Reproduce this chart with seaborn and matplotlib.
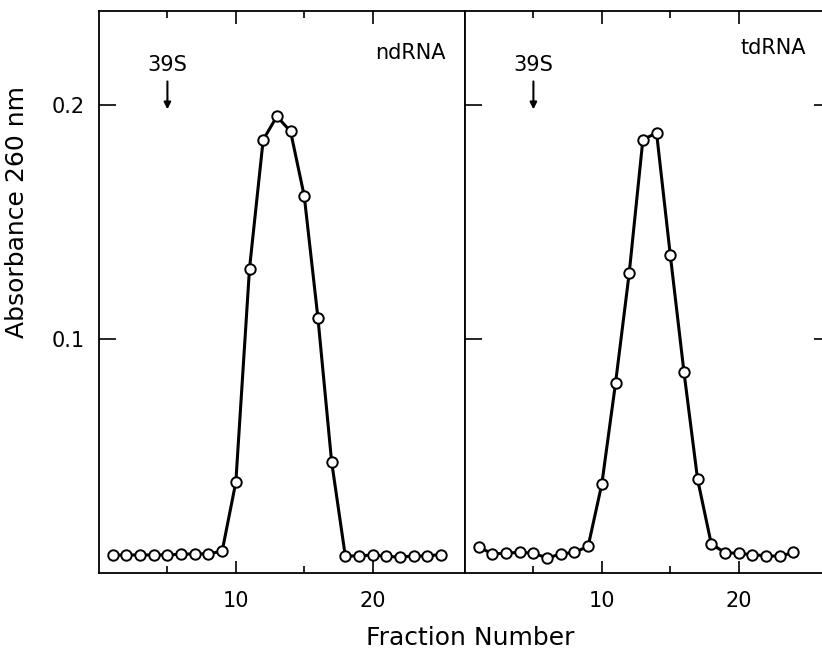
import numpy as np
import seaborn as sns
import matplotlib.pyplot as plt
from matplotlib.ticker import FixedLocator

# Fraktionsnummern und Absorption (260 nm)
fractions_nd = [1, 2, 3, 4, 5, 6, 7, 8, 9, 10, 11, 12, 13,
                14, 15, 16, 17, 18, 19, 20, 21, 22, 23, 24, 25]
absorbance_nd = [0.0077, 0.0077, 0.0077, 0.0077, 0.0078, 0.0080, 0.0082, 0.0082, 0.0093,
                 0.0388, 0.130, 0.185, 0.195, 0.1886, 0.161, 0.109, 0.0476,
                 0.0073, 0.0073, 0.0077, 0.0071, 0.0068, 0.0073, 0.0073, 0.0079]

fractions_td = [1, 2, 3, 4, 5, 6, 7, 8, 9, 10, 11, 12,
                13, 14, 15, 16, 17, 18, 19, 20, 21, 22, 23, 24]
absorbance_td = [0.0112, 0.0081, 0.0085, 0.0088, 0.0085, 0.0064, 0.0081, 0.0088, 0.0114,
                 0.038, 0.081, 0.128, 0.185, 0.188, 0.136, 0.086, 0.040,
                 0.0124, 0.0087, 0.0084, 0.0078, 0.0074, 0.0071, 0.0088]

panel_labels = ["ndRNA", "tdRNA"]
marker_label = "39S"
marker_fraction = 5

if __name__ == "__main__":
    sns.set_theme(style="ticks")
    plt.rcParams["font.family"] = ["DejaVu Sans"]
    plt.rcParams["text.color"] = "black"
    plt.rcParams["axes.labelcolor"] = "black"

    W, H = 822, 651
    fig = plt.figure(figsize=(W / 100, H / 100), dpi=100)
    bottom = 1 - 573 / H
    height = (573 - 11) / H
    ax1 = fig.add_axes([99 / W, bottom, 366 / W, height])
    ax2 = fig.add_axes([465 / W, bottom, 366 / W, height])

    data = [(ax1, fractions_nd, absorbance_nd), (ax2, fractions_td, absorbance_td)]
    for i, (ax, x, y) in enumerate(data):
        sns.lineplot(x=x, y=y, ax=ax, color="black", linewidth=2.2,
                     marker="o", markersize=7.5, markerfacecolor="white",
                     markeredgecolor="black", markeredgewidth=1.4)
        ax.set_xlim(0, 26.75)
        ax.set_ylim(0, 0.24)
        ax.set_xticks([10, 20])
        ax.xaxis.set_minor_locator(FixedLocator([5, 15]))
        ax.set_yticks([0.1, 0.2])
        for s in ax.spines.values():
            s.set_visible(True)
            s.set_linewidth(1.3)
            s.set_color("black")
        ax.tick_params(axis="x", which="major", direction="in", length=9, width=1.2,
                       top=True, bottom=True, labelsize=15, pad=13, colors="black")
        ax.tick_params(axis="x", which="minor", direction="in", length=5, width=1.2,
                       top=True, bottom=True, colors="black")
        ax.tick_params(axis="y", which="major", direction="in", length=12, width=1.2,
                       left=True, right=(i == 1), labelleft=(i == 0), labelsize=15,
                       pad=10, colors="black")
        ax.set_xlabel("")
        ax.set_ylabel("")

        # 39S-Markierung
        ax.annotate(marker_label, xy=(marker_fraction, 0.198), xytext=(marker_fraction, 0.2125),
                    ha="center", va="bottom", fontsize=15,
                    arrowprops=dict(arrowstyle="-|>", color="black", lw=1.5,
                                    mutation_scale=10, shrinkA=2, shrinkB=0))

    ax1.text(25.3, 0.2265, panel_labels[0], ha="right", va="top", fontsize=15)
    ax2.text(24.9, 0.2285, panel_labels[1], ha="right", va="top", fontsize=15)

    ax1.set_ylabel("Absorbance 260 nm", fontsize=18)
    ax1.yaxis.set_label_coords(-0.19, (573 - 212) / 562)
    fig.text(470 / W, 1 - 638 / H, "Fraction Number", ha="center", va="center", fontsize=18)

    fig.savefig("out.png", dpi=100)
